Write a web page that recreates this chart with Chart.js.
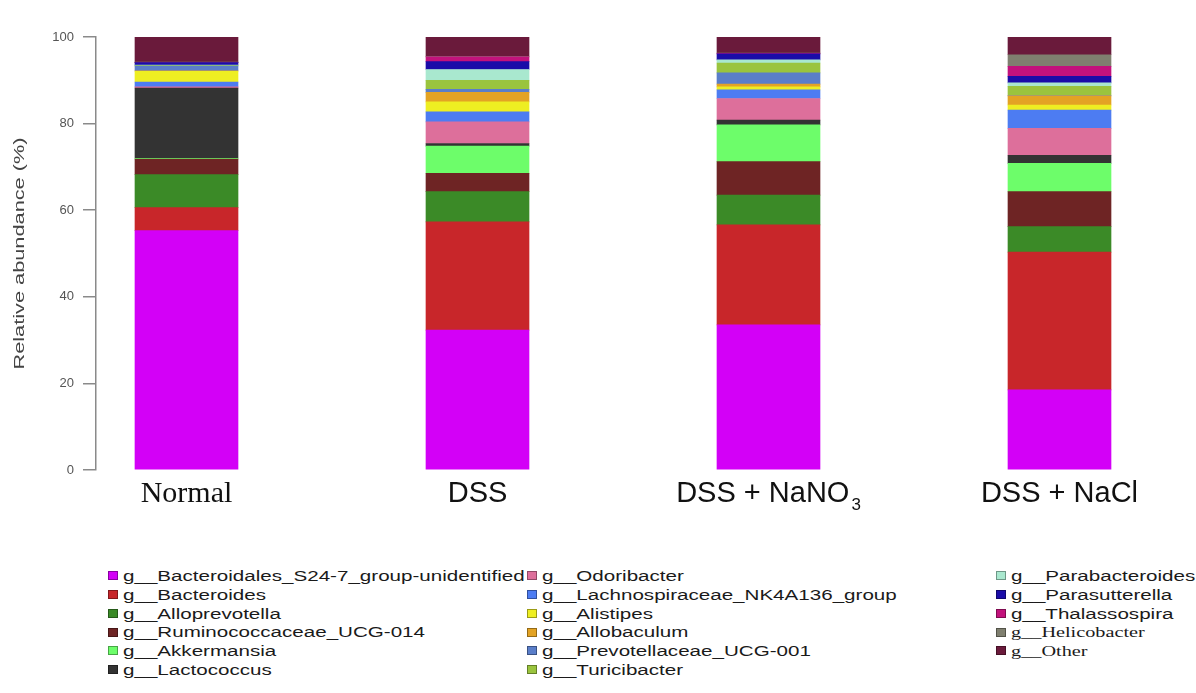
<!DOCTYPE html>
<html>
<head>
<meta charset="utf-8">
<script src="https://cdn.jsdelivr.net/npm/chart.js@4.4.1/dist/chart.umd.min.js"></script>
<style>
  body { margin: 0; background: #fff; }
  #wrap { position: relative; width: 1196px; height: 693px; }
  #chart-box { position: absolute; left: 0; top: 0; width: 1196px; height: 545px; }
  .leg-item { position: absolute; height: 18px; line-height: 18px; white-space: nowrap; font: 14px "Liberation Sans", Arial, sans-serif; color: #1a1a1a; }
  .leg-box { display: inline-block; width: 10px; height: 9px; vertical-align: middle; margin-top: -3px; box-sizing: border-box; border: 1px solid rgba(0,0,0,0.35); }
  .leg-text { display: inline-block; transform: scaleX(1.47); transform-origin: left center; margin-left: 5px; }
  .serif { font-family: "Liberation Serif", "Times New Roman", serif; font-size: 15px; transform: scaleX(1.35); }
</style>
</head>
<body>
<div id="wrap">
  <div id="chart-box"><canvas id="abundance-chart" width="1196" height="545"></canvas></div>
  <div id="legend"></div>
</div>
<script>
// groups along the x axis (₃ is drawn as a subscript)
const groups = ["Normal", "DSS", "DSS + NaNO₃", "DSS + NaCl"];
const yTicks = [0, 20, 40, 60, 80, 100];

// genus names, bottom of the stack first
const genera = [
    "g__Bacteroidales_S24-7_group-unidentified",
    "g__Bacteroides",
    "g__Alloprevotella",
    "g__Ruminococcaceae_UCG-014",
    "g__Akkermansia",
    "g__Lactococcus",
    "g__Odoribacter",
    "g__Lachnospiraceae_NK4A136_group",
    "g__Alistipes",
    "g__Allobaculum",
    "g__Prevotellaceae_UCG-001",
    "g__Turicibacter",
    "g__Parabacteroides",
    "g__Parasutterella",
    "g__Thalassospira",
    "g__Helicobacter",
    "g__Other",
];

// relative abundance (%) of each genus per group: Normal, DSS, DSS+NaNO3, DSS+NaCl
const bacteroidales   = [55.3, 32.3, 33.5, 18.5];
const bacteroides     = [5.3, 25.0, 23.1, 31.8];
const alloprevotella  = [7.6, 7.0, 6.9, 5.9];
const ruminococcaceae = [3.6, 4.2, 7.7, 8.1];
const akkermansia     = [0.2, 6.3, 8.5, 6.5];
const lactococcus     = [16.2, 0.6, 1.1, 1.9];
const odoribacter     = [0.3, 5.0, 5.0, 6.2];
const lachnospiraceae = [1.1, 2.3, 2.0, 4.2];
const alistipes       = [2.5, 2.3, 0.7, 1.2];
const allobaculum     = [0.1, 2.2, 0.6, 2.1];
const prevotellaceae  = [1.1, 0.7, 2.6, 0.1];
const turicibacter    = [0.1, 2.1, 2.3, 2.1];
const parabacteroides = [0.1, 2.5, 0.7, 0.8];
const parasutterella  = [0.6, 1.8, 1.4, 1.5];
const thalassospira   = [0.0, 1.1, 0.1, 2.3];
const helicobacter    = [0.1, 0.1, 0.1, 2.7];
const other           = [5.8, 4.5, 3.7, 4.1];

const series = [bacteroidales, bacteroides, alloprevotella, ruminococcaceae, akkermansia,
    lactococcus, odoribacter, lachnospiraceae, alistipes, allobaculum, prevotellaceae,
    turicibacter, parabacteroides, parasutterella, thalassospira, helicobacter, other];

const colours = ["#d300f7", "#c8262a", "#3b8a27", "#6e2424", "#6dfd6a", "#333333",
    "#dd6f9b", "#4d7cf2", "#eeee22", "#e3a324", "#5a7ec9", "#9ac43e", "#a9e8cf",
    "#1a0ca8", "#c2127c", "#7f7f6f", "#6a1a3b"];

// draws the group names under the bars and the rotated y title
const labelPlugin = {
    id: "groupLabels",
    afterDraw(chart) {
        let ctx = chart.ctx;
        let xScale = chart.scales.x;
        ctx.save();
        ctx.fillStyle = "#111";
        ctx.textBaseline = "alphabetic";
        groups.forEach((name, i) => {
            let cx = xScale.getPixelForValue(i);
            let font = i === 0 ? '30px "Liberation Serif"' : '29px "Liberation Sans"';
            let parts = name.split("₃");
            ctx.font = font;
            let mainW = ctx.measureText(parts[0]).width;
            let subW = 0;
            if (parts.length > 1) {
                ctx.font = '17px "Liberation Sans"';
                subW = ctx.measureText("3").width + 2;
            }
            let x0 = cx - (mainW + subW) / 2;
            ctx.textAlign = "left";
            ctx.font = font;
            ctx.fillText(parts[0], x0, 502);
            if (parts.length > 1) {
                ctx.font = '17px "Liberation Sans"';
                ctx.fillText("3", x0 + mainW + 2, 510);
            }
        });

        // y title, stretched along its length like the original figure
        ctx.translate(20, chart.chartArea.top + (chart.chartArea.bottom - chart.chartArea.top) / 2);
        ctx.rotate(-Math.PI / 2);
        ctx.scale(1.45, 1);
        ctx.font = '15px "Liberation Sans"';
        ctx.fillStyle = "#444";
        ctx.textAlign = "center";
        ctx.textBaseline = "middle";
        ctx.fillText("Relative abundance (%)", 0, 0);
        ctx.restore();
    }
};

let ctx = document.getElementById("abundance-chart").getContext("2d");

let abundanceChart = new Chart(ctx, {
    type: "bar",
    data: {
        datasets: genera.map((name, k) => ({
            label: name,
            data: series[k].map((v, i) => ({ x: i, y: v })),
            backgroundColor: colours[k],
            borderWidth: 0,
            barThickness: 103,
        })),
    },
    options: {
        responsive: false,
        animation: false,
        layout: { padding: { left: 0, right: 46, top: 37, bottom: 75 } },
        plugins: {
            legend: { display: false },
            tooltip: { enabled: false },
        },
        scales: {
            x: {
                type: "linear",
                stacked: true,
                offset: false,
                min: -0.311,
                max: 3.311,
                display: false,
            },
            y: {
                stacked: true,
                min: 0,
                max: 100,
                afterFit(scale) { scale.width = 96; },
                afterBuildTicks(scale) { scale.ticks = yTicks.map(v => ({ value: v })); },
                border: { display: true, color: "#8a8a8a", width: 1.5 },
                grid: { drawOnChartArea: false, color: "#8a8a8a", tickLength: 13, lineWidth: 1.5 },
                ticks: {
                    padding: 9,
                    color: "#555",
                    font: { family: "Liberation Sans", size: 13 },
                },
            },
        },
    },
    plugins: [labelPlugin],
});

// legend laid out in three columns under the chart
let legendBox = document.getElementById("legend");
let colX = [108, 527, 996];
let colStart = [0, 6, 12];
genera.forEach((name, k) => {
    let col = k < 6 ? 0 : (k < 12 ? 1 : 2);
    let row = k - colStart[col];
    let item = document.createElement("div");
    item.className = "leg-item";
    item.style.left = colX[col] + "px";
    item.style.top = (568 + row * 18.8) + "px";
    let box = document.createElement("span");
    box.className = "leg-box";
    box.style.background = colours[k];
    let text = document.createElement("span");
    text.className = "leg-text";
    if (name === "g__Helicobacter" || name === "g__Other") text.className += " serif";
    text.textContent = name;
    item.appendChild(box);
    item.appendChild(text);
    legendBox.appendChild(item);
});
</script>
</body>
</html>
